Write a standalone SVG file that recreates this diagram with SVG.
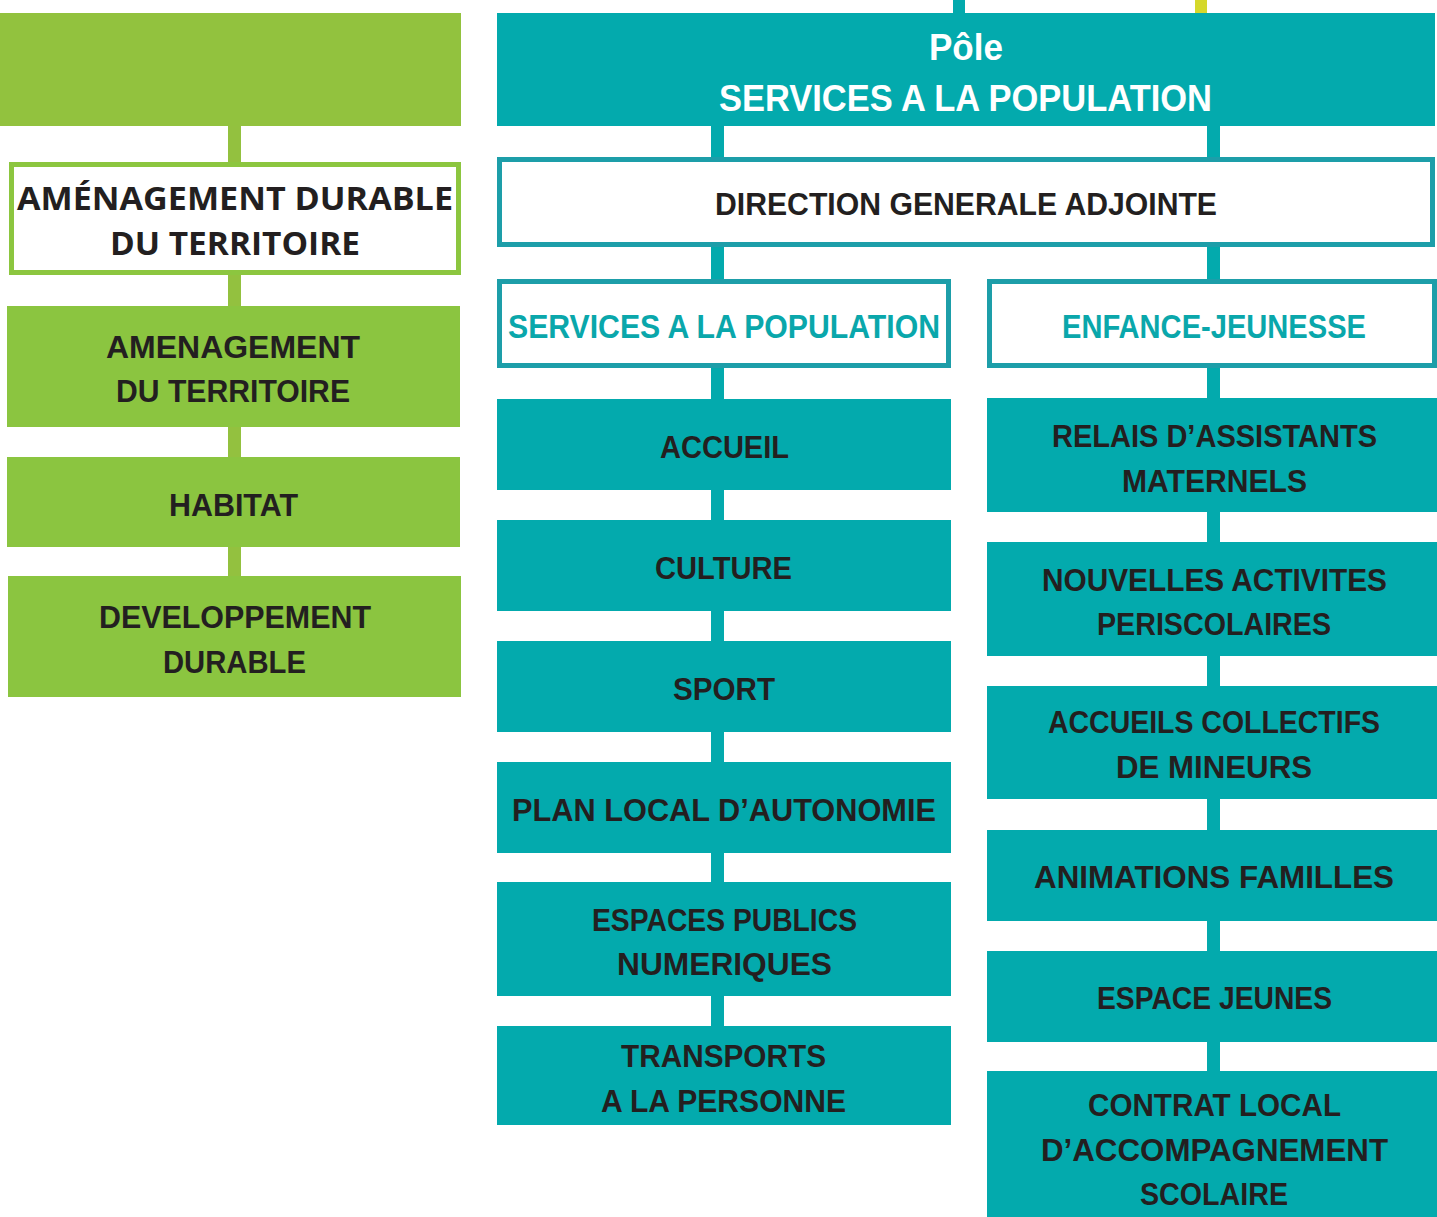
<svg xmlns="http://www.w3.org/2000/svg" width="1437" height="1217" viewBox="0 0 1437 1217">
<style>
.bg{fill:#ffffff}
.green{fill:#8BC540}
.gtop{fill:#92C23E}
.teal{fill:#03AAAD}
.gcon{fill:#93C13F}
.tcon{fill:#03AAAD}
.ycon{fill:#D5D82B}
.gbox{fill:#ffffff;stroke:#8CC63F;stroke-width:5}
.tbox{fill:#ffffff;stroke:#1D9EA9;stroke-width:5}
.t{font-family:"Liberation Sans",Arial,sans-serif;font-weight:bold;font-size:32px;fill:#231F20;text-anchor:middle}
.o{font-family:"Open Sans","Liberation Sans",sans-serif;font-weight:bold;font-size:32px;fill:#231F20;text-anchor:middle}
.w{fill:#ffffff;font-size:37px}
.tt{fill:#0AA7AB;font-size:33px}
</style>
<rect class="bg" x="0" y="0" width="1437" height="1217"/>
<g id="connectors">
<rect class="gcon" x="228" y="126" width="13" height="37"/>
<rect class="gcon" x="228" y="275" width="13" height="31"/>
<rect class="gcon" x="228" y="427" width="13" height="30"/>
<rect class="gcon" x="228" y="547" width="13" height="29"/>
<rect class="tcon" x="953" y="0" width="12" height="13"/>
<rect class="ycon" x="1195" y="0" width="12" height="13"/>
<rect class="tcon" x="711" y="126" width="13" height="31"/>
<rect class="tcon" x="711" y="247" width="13" height="32"/>
<rect class="tcon" x="711" y="368" width="13" height="31"/>
<rect class="tcon" x="711" y="490" width="13" height="30"/>
<rect class="tcon" x="711" y="611" width="13" height="30"/>
<rect class="tcon" x="711" y="732" width="13" height="30"/>
<rect class="tcon" x="711" y="853" width="13" height="29"/>
<rect class="tcon" x="711" y="996" width="13" height="30"/>
<rect class="tcon" x="1207" y="126" width="13" height="31"/>
<rect class="tcon" x="1207" y="247" width="13" height="32"/>
<rect class="tcon" x="1207" y="368" width="13" height="30"/>
<rect class="tcon" x="1207" y="512" width="13" height="30"/>
<rect class="tcon" x="1207" y="656" width="13" height="30"/>
<rect class="tcon" x="1207" y="799" width="13" height="31"/>
<rect class="tcon" x="1207" y="921" width="13" height="30"/>
<rect class="tcon" x="1207" y="1042" width="13" height="29"/>
</g>
<g id="pole-green"><rect class="gtop" x="0" y="13" width="461" height="113"/></g>
<g id="amenagement-durable">
<rect class="gbox" x="11.5" y="164.5" width="447" height="108"/>
<text class="o" x="235" y="210" textLength="436" lengthAdjust="spacingAndGlyphs">AMÉNAGEMENT DURABLE</text>
<text class="o" x="235" y="255" textLength="250" lengthAdjust="spacingAndGlyphs">DU TERRITOIRE</text>
</g>
<g id="amenagement-territoire">
<rect class="green" x="7" y="306" width="453" height="121"/>
<text class="t" x="233" y="358" textLength="254" lengthAdjust="spacingAndGlyphs">AMENAGEMENT</text>
<text class="t" x="233" y="402" textLength="234" lengthAdjust="spacingAndGlyphs">DU TERRITOIRE</text>
</g>
<g id="habitat">
<rect class="green" x="7" y="457" width="453" height="90"/>
<text class="t" x="233.5" y="516" textLength="129" lengthAdjust="spacingAndGlyphs">HABITAT</text>
</g>
<g id="developpement-durable">
<rect class="green" x="8" y="576" width="453" height="121"/>
<text class="t" x="235" y="628" textLength="272" lengthAdjust="spacingAndGlyphs">DEVELOPPEMENT</text>
<text class="t" x="234.5" y="673" textLength="143" lengthAdjust="spacingAndGlyphs">DURABLE</text>
</g>
<g id="pole-services">
<rect class="teal" x="497" y="13" width="938" height="113"/>
<text class="t w" x="966" y="60" textLength="74" lengthAdjust="spacingAndGlyphs">Pôle</text>
<text class="t w" x="965.5" y="111" textLength="493" lengthAdjust="spacingAndGlyphs">SERVICES A LA POPULATION</text>
</g>
<g id="dga">
<rect class="tbox" x="499.5" y="159.5" width="933" height="85"/>
<text class="t" x="966" y="215" textLength="502" lengthAdjust="spacingAndGlyphs">DIRECTION GENERALE ADJOINTE</text>
</g>
<g id="services-population">
<rect class="tbox" x="499.5" y="281.5" width="449" height="84"/>
<text class="t tt" x="724" y="338" textLength="432" lengthAdjust="spacingAndGlyphs">SERVICES A LA POPULATION</text>
</g>
<g id="enfance-jeunesse">
<rect class="tbox" x="989.5" y="281.5" width="445" height="84"/>
<text class="t tt" x="1214" y="338" textLength="304" lengthAdjust="spacingAndGlyphs">ENFANCE-JEUNESSE</text>
</g>
<g id="accueil">
<rect class="teal" x="497" y="399" width="454" height="91"/>
<text class="t" x="724.5" y="458" textLength="129" lengthAdjust="spacingAndGlyphs">ACCUEIL</text>
</g>
<g id="culture">
<rect class="teal" x="497" y="520" width="454" height="91"/>
<text class="t" x="723.5" y="579" textLength="137" lengthAdjust="spacingAndGlyphs">CULTURE</text>
</g>
<g id="sport">
<rect class="teal" x="497" y="641" width="454" height="91"/>
<text class="t" x="724" y="700" textLength="102" lengthAdjust="spacingAndGlyphs">SPORT</text>
</g>
<g id="plan-local">
<rect class="teal" x="497" y="762" width="454" height="91"/>
<text class="t" x="724" y="821" textLength="424" lengthAdjust="spacingAndGlyphs">PLAN LOCAL D’AUTONOMIE</text>
</g>
<g id="espaces-publics">
<rect class="teal" x="497" y="882" width="454" height="114"/>
<text class="t" x="724.5" y="931" textLength="265" lengthAdjust="spacingAndGlyphs">ESPACES PUBLICS</text>
<text class="t" x="724.5" y="975" textLength="215" lengthAdjust="spacingAndGlyphs">NUMERIQUES</text>
</g>
<g id="transports">
<rect class="teal" x="497" y="1026" width="454" height="99"/>
<text class="t" x="723.5" y="1067" textLength="205" lengthAdjust="spacingAndGlyphs">TRANSPORTS</text>
<text class="t" x="723.5" y="1112" textLength="245" lengthAdjust="spacingAndGlyphs">A LA PERSONNE</text>
</g>
<g id="relais">
<rect class="teal" x="987" y="398" width="450" height="114"/>
<text class="t" x="1214.5" y="447" textLength="325" lengthAdjust="spacingAndGlyphs">RELAIS D’ASSISTANTS</text>
<text class="t" x="1214.5" y="492" textLength="185" lengthAdjust="spacingAndGlyphs">MATERNELS</text>
</g>
<g id="nouvelles-activites">
<rect class="teal" x="987" y="542" width="450" height="114"/>
<text class="t" x="1214.5" y="591" textLength="345" lengthAdjust="spacingAndGlyphs">NOUVELLES ACTIVITES</text>
<text class="t" x="1214" y="635" textLength="234" lengthAdjust="spacingAndGlyphs">PERISCOLAIRES</text>
</g>
<g id="accueils-collectifs">
<rect class="teal" x="987" y="686" width="450" height="113"/>
<text class="t" x="1214" y="733" textLength="332" lengthAdjust="spacingAndGlyphs">ACCUEILS COLLECTIFS</text>
<text class="t" x="1214" y="778" textLength="196" lengthAdjust="spacingAndGlyphs">DE MINEURS</text>
</g>
<g id="animations-familles">
<rect class="teal" x="987" y="830" width="450" height="91"/>
<text class="t" x="1214" y="888" textLength="360" lengthAdjust="spacingAndGlyphs">ANIMATIONS FAMILLES</text>
</g>
<g id="espace-jeunes">
<rect class="teal" x="987" y="951" width="450" height="91"/>
<text class="t" x="1214.5" y="1009" textLength="235" lengthAdjust="spacingAndGlyphs">ESPACE JEUNES</text>
</g>
<g id="contrat-local">
<rect class="teal" x="987" y="1071" width="450" height="146"/>
<text class="t" x="1214.5" y="1116" textLength="253" lengthAdjust="spacingAndGlyphs">CONTRAT LOCAL</text>
<text class="t" x="1214.5" y="1161" textLength="347" lengthAdjust="spacingAndGlyphs">D’ACCOMPAGNEMENT</text>
<text class="t" x="1214" y="1205" textLength="148" lengthAdjust="spacingAndGlyphs">SCOLAIRE</text>
</g>
</svg>
